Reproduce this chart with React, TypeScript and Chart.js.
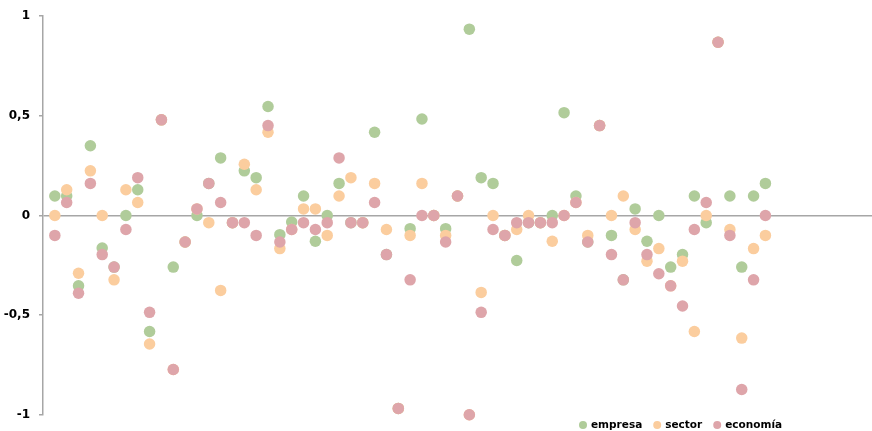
import { useEffect, useRef } from 'react';
import { Chart, registerables } from 'chart.js';

Chart.register(...registerables);

const seriesNames = ['empresa', 'sector', 'economía'];

const empresa = [
  0.098, 0.098, -0.353, 0.35, -0.163, -0.259, 0, 0.129, -0.582, 0.48,
  -0.259, -0.133, 0, 0.161, 0.289, -0.036, 0.224, 0.19, 0.547, -0.096,
  -0.033, 0.098, -0.129, 0, 0.161, -0.036, -0.036, 0.418, -0.196, -0.968,
  -0.066, 0.484, 0, -0.066, 0.098, 0.935, 0.19, 0.161, -0.1, -0.226,
  -0.036, -0.036, 0, 0.516, 0.098, -0.133, 0.451, -0.1, -0.323, 0.033,
  -0.129, 0, -0.259, -0.196, 0.098, -0.036, 0.869, 0.098, -0.259, 0.098,
  0.161,
];

const sector = [
  0, 0.129, -0.29, 0.224, 0, -0.323, 0.129, 0.065, -0.645, 0.48,
  -0.773, -0.133, 0.033, -0.036, -0.376, -0.036, 0.257, 0.129, 0.418, -0.166,
  -0.07, 0.033, 0.033, -0.1, 0.098, 0.19, -0.036, 0.161, -0.07, -0.968,
  -0.1, 0.161, 0, -0.1, 0.098, -1.0, -0.386, 0, -0.1, -0.07,
  0, -0.036, -0.129, 0, 0.065, -0.1, 0.451, 0, 0.098, -0.07,
  -0.229, -0.166, -0.353, -0.229, -0.582, 0, 0.869, -0.07, -0.615, -0.166,
  -0.1,
];

const economia = [
  -0.1, 0.065, -0.39, 0.161, -0.196, -0.259, -0.07, 0.19, -0.486, 0.48,
  -0.773, -0.133, 0.033, 0.161, 0.065, -0.036, -0.036, -0.1, 0.451, -0.133,
  -0.07, -0.036, -0.07, -0.036, 0.289, -0.036, -0.036, 0.065, -0.196, -0.968,
  -0.323, 0, 0, -0.133, 0.098, -1.0, -0.486, -0.07, -0.1, -0.036,
  -0.036, -0.036, -0.036, 0, 0.065, -0.133, 0.451, -0.196, -0.323, -0.036,
  -0.196, -0.292, -0.353, -0.454, -0.07, 0.065, 0.869, -0.1, -0.873, -0.323,
  0,
];

const yTickValues = [-1, -0.5, 0, 0.5, 1];
const xRange = [0, 70];

const seriesColors = ['#B0CC9A', '#FBCD9E', '#DEA5AA'];
const axisGray = '#A6A6A6';

const toPoints = (arr: number[]) => arr.map((v, i) => ({ x: i + 1, y: v }));

const legendPlugin = {
  id: 'bottomLegend',
  afterDraw(chart: any) {
    const ctx = chart.ctx as CanvasRenderingContext2D;
    ctx.save();
    ctx.font = 'bold 10.5px "DejaVu Sans"';
    ctx.textBaseline = 'middle';
    ctx.textAlign = 'left';
    let x = 583;
    const y = 425;
    chart.data.datasets.forEach((ds: any) => {
      ctx.fillStyle = ds.backgroundColor;
      ctx.beginPath();
      ctx.arc(x, y, 4, 0, Math.PI * 2);
      ctx.fill();
      ctx.fillStyle = '#000';
      ctx.fillText(ds.label, x + 8, y);
      x += 8 + ctx.measureText(ds.label).width + 15;
    });
    ctx.restore();
  },
};

export default function App() {
  const canvasRef = useRef<HTMLCanvasElement | null>(null);

  useEffect(() => {
    if (!canvasRef.current) return;
    const data = [empresa, sector, economia];
    const chart = new Chart(canvasRef.current, {
      type: 'scatter',
      data: {
        datasets: data.map((arr, i) => ({
          label: seriesNames[i],
          data: toPoints(arr),
          backgroundColor: seriesColors[i],
          borderColor: seriesColors[i],
          pointRadius: 5.75,
          pointBorderWidth: 0,
          pointHoverRadius: 5.75,
          order: 2 - i,
          clip: false as any,
        })),
      },
      options: {
        animation: false,
        responsive: false,
        devicePixelRatio: 1,
        layout: { autoPadding: false, padding: { top: 13, bottom: 16, left: 0, right: 0 } },
        plugins: {
          legend: { display: false },
          tooltip: { enabled: false },
        },
        scales: {
          x: {
            type: 'linear',
            min: xRange[0],
            max: xRange[1],
            display: false,
          },
          y: {
            type: 'linear',
            min: yTickValues[0],
            max: yTickValues[yTickValues.length - 1],
            afterBuildTicks: (scale: any) => {
              scale.ticks = yTickValues.map((v) => ({ value: v }));
            },
            afterFit: (scale: any) => {
              scale.width = 43;
            },
            ticks: {
              padding: 9,
              color: '#000',
              font: { family: 'DejaVu Sans', size: 12, weight: 'bold' },
              callback: (v: any) => String(v).replace('.', ','),
            },
            grid: {
              color: (c: any) => (c.tick && c.tick.value === 0 ? axisGray : 'rgba(0,0,0,0)'),
              lineWidth: 1.5,
              tickColor: axisGray,
              tickLength: 4,
              drawTicks: true,
            },
            border: { display: true, color: axisGray, width: 1.5 },
          },
        },
      },
      plugins: [legendPlugin],
    });
    return () => chart.destroy();
  }, []);

  return (
    <div style={{ position: 'absolute', left: 0, top: 0, width: 872, height: 431, background: '#fff' }}>
      <canvas ref={canvasRef} width={872} height={431} style={{ display: 'block' }} />
    </div>
  );
}
